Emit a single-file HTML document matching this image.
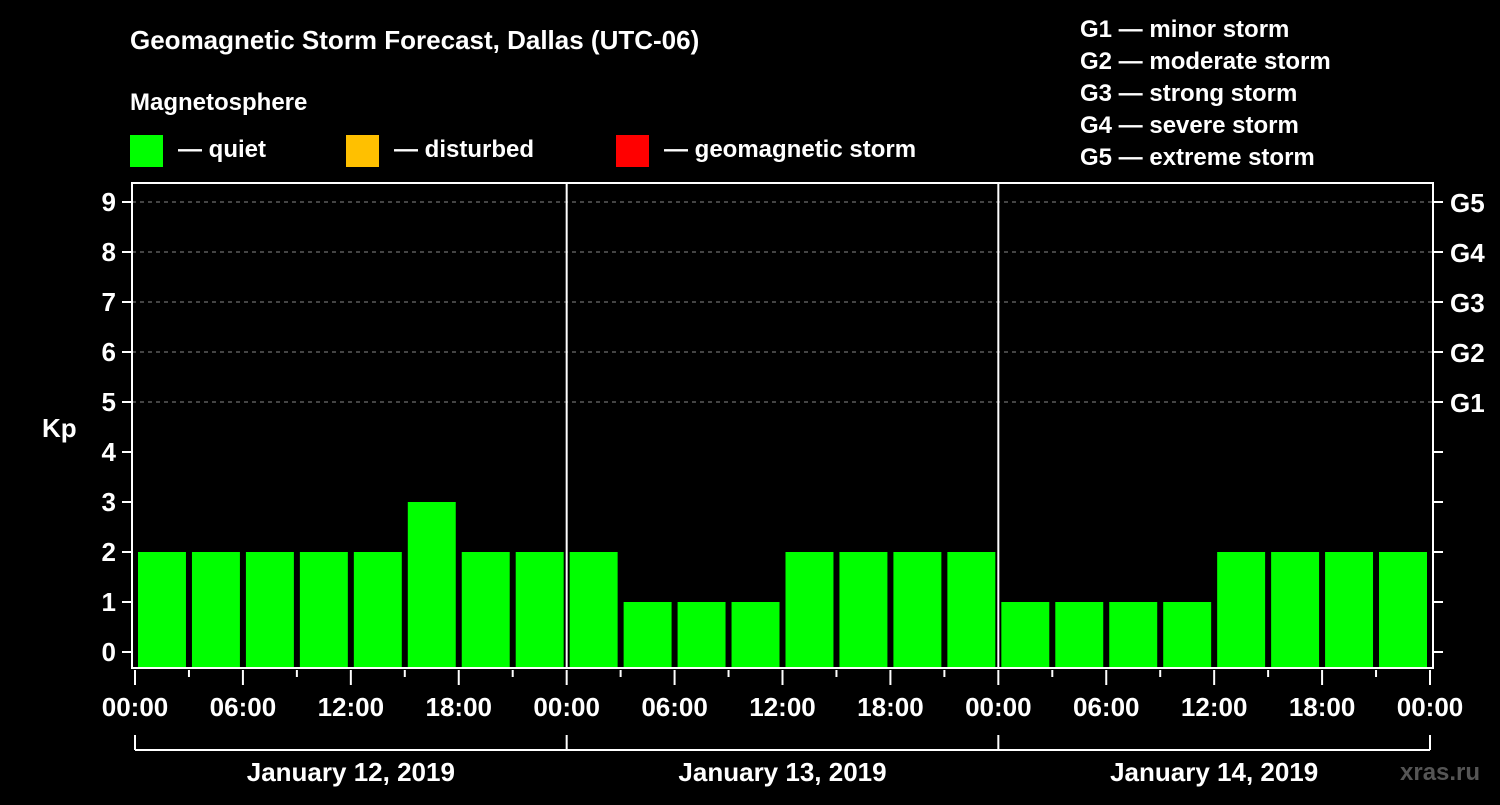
<!DOCTYPE html>
<html><head><meta charset="utf-8"><style>
body{margin:0;background:#000;width:1500px;height:800px;overflow:hidden}
svg text{font-family:"Liberation Sans",sans-serif;font-weight:bold;fill:#fff}
</style></head><body>
<svg id="c" width="1500" height="800">
<text x="130" y="49" font-size="26">Geomagnetic Storm Forecast, Dallas (UTC-06)</text>
<text x="130" y="110" font-size="24">Magnetosphere</text>
<rect x="130" y="135" width="33" height="32" fill="#00ff00"/>
<text x="178" y="157" font-size="24">— quiet</text>
<rect x="346" y="135" width="33" height="32" fill="#ffc000"/>
<text x="394" y="157" font-size="24">— disturbed</text>
<rect x="616" y="135" width="33" height="32" fill="#ff0000"/>
<text x="664" y="157" font-size="24">— geomagnetic storm</text>
<g font-size="24">
<text x="1080" y="37">G1 — minor storm</text>
<text x="1080" y="69">G2 — moderate storm</text>
<text x="1080" y="101">G3 — strong storm</text>
<text x="1080" y="133">G4 — severe storm</text>
<text x="1080" y="165">G5 — extreme storm</text>
</g>
<text x="42" y="437" font-size="26">Kp</text>
<text x="1400" y="780" font-size="24" fill="#555" style="fill:#555">xras.ru</text>
<g id="g"></g>
</svg>
<script>
const kpValues=[2,2,2,2,2,3,2,2, 2,1,1,1,2,2,2,2, 1,1,1,1,2,2,2,2];
const dayLabels=["January 12, 2019","January 13, 2019","January 14, 2019"];
const hourLabels=["00:00","06:00","12:00","18:00"];
const yTicks=[0,1,2,3,4,5,6,7,8,9];
const gLabels=["G1","G2","G3","G4","G5"];
const NS="http://www.w3.org/2000/svg",g=document.getElementById('g');
const X0=135,X1=1430,L=132,R=1433,T=183,B=668;
const x=h=>X0+(X1-X0)*h/(24*kpValues.length/8*1);
const y=v=>652-50*v;
function mk(t,a,txt){const e=document.createElementNS(NS,t);for(const k in a)e.setAttribute(k,a[k]);if(txt!==undefined)e.textContent=txt;g.appendChild(e);return e;}
const totalH=kpValues.length*3;
const xh=h=>X0+(X1-X0)*h/totalH;
yTicks.forEach(v=>{
 if(v>=5){const l=mk('line',{x1:L,x2:R,y1:y(v),y2:y(v),stroke:'#888','stroke-dasharray':'4,4'});
 
 }
 const t=mk('line',{x1:122,x2:L,y1:y(v),y2:y(v),stroke:'#fff','stroke-width':2});
 
 
 const r=mk('line',{x1:R,x2:R+10,y1:y(v),y2:y(v),stroke:'#fff','stroke-width':2});
 
 
 const lb=mk('text',{x:116,y:y(v)+9,'font-size':26,'text-anchor':'end'},String(v));
 
 
});
gLabels.forEach((s,i)=>{
 const lb=mk('text',{x:1450,y:y(5+i)+10,'font-size':26},s);
 
 
});
kpValues.forEach((v,i)=>{
 const x0=xh(i*3),x1=xh(i*3+3);
 const c=v>=5?'#ff0000':(v>=4?'#ffc000':'#00ff00');
 const b=mk('rect',{x:x0+3,y:y(v),width:x1-x0-6,height:B-y(v),fill:c});
 
 
});
const fr=mk('rect',{x:L,y:T,width:R-L,height:B-T,fill:'none',stroke:'#fff','stroke-width':2});


for(let d=1;d<dayLabels.length;d++){
 const l=mk('line',{x1:xh(d*24),x2:xh(d*24),y1:T,y2:B,stroke:'#fff','stroke-width':2});
 
 
}
for(let h=0;h<=totalH;h+=3){
 const major=h%6===0;
 const t=mk('line',{x1:xh(h),x2:xh(h),y1:B+2,y2:major?685:677,stroke:'#fff','stroke-width':2});
 
 
 if(major){
  const lb=mk('text',{x:xh(h),y:716,'font-size':26,'text-anchor':'middle'},hourLabels[(h/6)%4]);
  
  
 }
}
const br=mk('path',{d:'',stroke:'#fff','stroke-width':2,fill:'none'});
let d='M'+xh(0)+',750 H'+xh(totalH);
for(let i=0;i<=dayLabels.length;i++)d+=' M'+xh(i*24)+',735 V750';
br.setAttribute('d',d);


dayLabels.forEach((s,i)=>{
 const lb=mk('text',{x:xh(i*24+12),y:781,'font-size':26,'text-anchor':'middle'},s);
 
 
});
</script>
</body></html>
